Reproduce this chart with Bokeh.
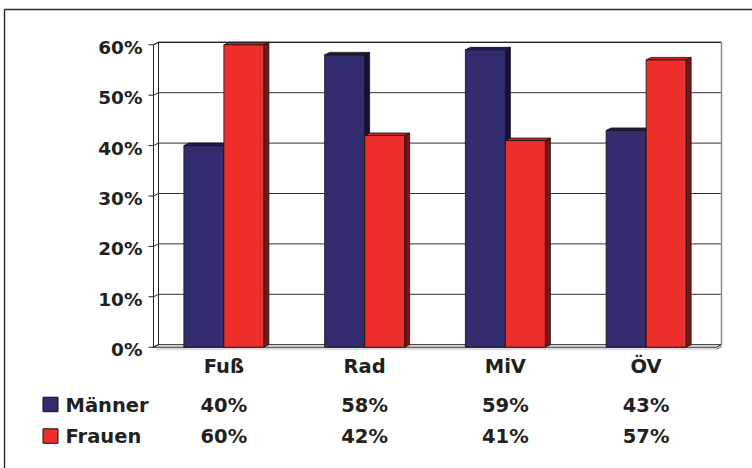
from bokeh.plotting import figure
from bokeh.models import Range1d
from bokeh.embed import file_html
from bokeh.resources import INLINE
from bokeh.core.properties import value

# ---- data -------------------------------------------------------------
categories = ["Fuß", "Rad", "MiV", "ÖV"]
maenner = [40, 58, 59, 43]
frauen = [60, 42, 41, 57]
series_names = ["Männer", "Frauen"]
y_ticks = [0, 10, 20, 30, 40, 50, 60]
y_tick_labels = ["0%", "10%", "20%", "30%", "40%", "50%", "60%"]

# ---- layout (pixels) --------------------------------------------------
W, H = 752, 468
X0, UX = 153.0, 140.75   # pixel x of the category origin, pixels per category
Y0, UY = 346.7, 5.04     # pixel y of 0 %, pixels per percent point


def xd(px):
    return (px - X0) / UX


def yd(py):
    return (Y0 - py) / UY


DX = 5.0 / UX            # depth of the 3-D effect, horizontal
DY = 2.5 / UY            # depth of the 3-D effect, vertical
BAR_W = 40.0 / UX
N = len(categories)
YMAX = y_ticks[-1]

FONT = value("DejaVu Sans")
TXT = "#231f20"
SHIFT = -7.0             # baseline correction for the text glyphs

front = ["#322d6e", "#ee2e2b"]
top_face = ["#221c55", "#c4262a"]
side_face = ["#190f3c", "#7a1418"]

p = figure(width=W, height=H, x_range=Range1d(xd(0), xd(W)),
           y_range=Range1d(yd(H), yd(0)), output_backend="svg",
           toolbar_location=None, x_axis_type=None, y_axis_type=None,
           min_border=0, outline_line_color=None,
           background_fill_color="white", border_fill_color="white")
p.xgrid.visible = False
p.ygrid.visible = False

# outer frame
p.line([xd(4), xd(4), xd(W + 5)], [yd(H + 5), yd(9), yd(9)],
       line_color="#2a2a2a", line_width=1.4)

# back wall
p.quad(left=DX, right=N + DX, bottom=DY, top=YMAX + DY,
       fill_color="white", line_color=None)
# left wall
p.patch([0, DX, DX, 0], [0, DY, YMAX + DY, YMAX],
        fill_color="white", line_color="#222222", line_width=1)
# floor
p.patch([0, N, N + DX, DX], [0, 0, DY, DY],
        fill_color="white", line_color="#222222", line_width=1)
p.line([N, N + DX], [-0.35, DY - 0.35], line_color="#999999", line_width=1.5)
p.line([DX * 0.5, N], [-0.35, -0.35], line_color="#bbbbbb", line_width=1)

# gridlines on the back wall, lines on the side wall, tick marks
for v in y_ticks[1:]:
    p.line([DX, N + DX], [v + DY, v + DY], line_color="#333333", line_width=1)
for v in y_ticks:
    p.line([0, DX], [v, v + DY], line_color="#333333", line_width=1)
    p.line([xd(X0 - 5), 0], [v, v], line_color="#222222", line_width=1)

# wall edges
p.line([DX, DX], [DY, YMAX + DY], line_color="#222222", line_width=1)
p.line([DX, N + DX], [YMAX + DY, YMAX + DY], line_color="#222222", line_width=1.2)
p.line([N + DX, N + DX], [DY, YMAX + DY], line_color="#8a8a8a", line_width=1.5)
p.line([0, 0], [0, YMAX], line_color="#222222", line_width=1)

# 3-D columns
for k in range(N):
    for i, vals in enumerate([maenner, frauen]):
        v = vals[k]
        x0 = k + 0.5 - BAR_W + i * BAR_W
        x1 = x0 + BAR_W
        p.patch([x1, x1 + DX, x1 + DX, x1], [0, DY, v + DY, v],
                fill_color=side_face[i], line_color="#111111", line_width=0.8)
        p.patch([x0, x1, x1 + DX, x0 + DX], [v, v, v + DY, v + DY],
                fill_color=top_face[i], line_color="#111111", line_width=0.8)
        p.quad(left=x0, right=x1, bottom=0, top=v,
               fill_color=front[i], line_color="#111111", line_width=0.8)

# value axis labels
p.text(x=[xd(142)] * len(y_ticks), y=y_ticks, text=y_tick_labels,
       text_align="right", text_baseline="alphabetic", y_offset=9.5 + SHIFT,
       text_font=FONT, text_font_style="bold", text_font_size="18.5px",
       text_color=TXT)

# category labels
centers = [k + 0.5 for k in range(N)]
p.text(x=centers, y=[0] * N, text=categories, text_align="center",
       text_baseline="alphabetic", y_offset=26.6 + SHIFT, text_font=FONT,
       text_font_style="bold", text_font_size="19.5px", text_color=TXT)

# data table with legend keys
for i, vals in enumerate([maenner, frauen]):
    off = 65.0 + i * 31.6
    p.text(x=centers, y=[0] * N, text=[f"{v}%" for v in vals],
           text_align="center", text_baseline="alphabetic", y_offset=off + SHIFT,
           text_font=FONT, text_font_style="bold", text_font_size="19.5px",
           text_color=TXT)
    p.text(x=[xd(65)], y=[0], text=[series_names[i]], text_align="left",
           text_baseline="alphabetic", y_offset=off + SHIFT, text_font=FONT,
           text_font_style="bold", text_font_size="19.5px", text_color=TXT)
    top_px = Y0 + off - 15
    p.quad(left=xd(42.5), right=xd(57.5), bottom=yd(top_px + 14.5),
           top=yd(top_px), fill_color=front[i], line_color="#111111",
           line_width=1)

open("out.html", "w").write(file_html(p, INLINE))
